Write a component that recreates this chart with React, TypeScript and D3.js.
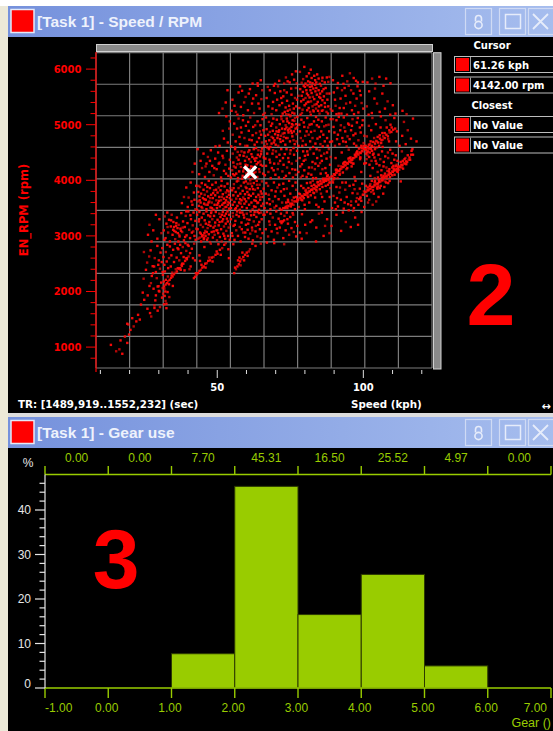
import React from 'react';
import * as d3 from 'd3';

// ---------- Scatter data: [speed (kph), rpm], grouped by rpm band ----------
const band6000: [number, number][] = [
  [71.2,5790],[73.5,5850],[74.8,5760],[75.6,5905],[76.3,5810],[72.9,5740],[76.9,5960],[74.1,5780],[69.8,5735],[77.2,5745],
  [79.8,6040],[81.4,5925],[82.0,5990],[78.3,5950],[80.6,5870],[83.2,5880],[84.7,5830],[85.9,5790],[86.8,5760],[82.6,5745],
  [81.1,5780],[79.4,5820],[83.9,5760],[84.2,5905],[87.5,5850],[88.4,5860],[80.2,5740],[85.1,5735],[86.0,5845],[78.9,5755],
  [83.5,5800],[82.3,5840],[81.8,5760],[88.0,5770],[89.6,5800],[91.3,5750],[92.8,5880],[94.5,5780],[96.7,5840],[98.1,5760],
  [99.8,5770],[95.4,5925],[93.2,5735],[97.5,5790],[101.4,5760],[103.0,5830],[105.5,5860],[107.8,5830],[109.3,5745],[104.2,5740],
  [62.1,5740],[63.8,5745],[64.9,5800]
];

const band5400: [number, number][] = [
  [53.5,5620],[51.8,5290],[52.9,5400],[50.6,5210],
  [55.2,5450],[56.4,5230],[57.3,5580],[58.1,5320],[58.9,5170],[59.7,5500],[60.5,5260],[61.2,5640],[61.9,5380],[62.6,5210],
  [63.3,5530],[63.9,5700],[64.5,5290],[65.1,5460],[65.7,5180],[55.9,5340],[57.8,5690],[59.2,5400],[60.8,5560],[62.3,5470],
  [64.1,5380],[65.4,5620],[56.9,5180],[54.9,5250],[58.5,5610],
  [66.3,5210],[66.9,5480],[67.5,5330],[68.0,5620],[68.6,5190],[69.1,5410],[69.7,5570],[70.2,5260],[70.8,5690],[71.3,5350],
  [71.9,5480],[72.4,5200],[72.9,5620],[73.4,5310],[73.9,5430],[74.4,5180],[74.9,5270],[75.4,5540],[75.9,5380],[76.4,5200],
  [76.9,5660],[77.3,5450],[73.1,5230],[74.1,5250],[75.1,5170],[75.7,5215],[76.2,5290],[74.6,5340],[73.6,5190],[72.2,5390],
  [70.5,5450],[68.9,5290],[67.3,5680],[69.4,5700],[71.6,5600],[75.3,5650],[76.6,5480],[77.0,5330],[73.8,5580],[72.6,5510],
  [77.8,5520],[78.1,5300],[78.4,5640],[78.7,5420],[79.0,5210],[79.3,5590],[79.6,5700],[79.9,5350],[80.2,5480],[80.5,5620],
  [80.8,5260],[81.1,5530],[81.4,5410],[81.7,5680],[82.0,5180],[82.3,5570],[82.6,5330],[82.9,5650],[83.2,5460],[83.5,5720],
  [83.8,5290],[84.1,5540],[84.4,5410],[84.7,5620],[85.0,5200],[85.3,5480],[85.6,5350],[85.9,5600],[86.2,5260],[86.5,5510],
  [86.8,5390],[87.1,5660],[87.4,5230],[87.7,5450],[88.0,5330],[88.4,5560],[88.8,5280],[80.0,5680],[80.9,5710],[81.9,5620],
  [82.7,5500],[83.6,5600],[84.0,5370],[84.9,5500],[85.5,5700],[86.4,5640],[79.5,5450],[81.3,5300],[82.1,5420],[83.0,5240],
  [84.5,5250],[86.0,5440],[87.5,5560],[78.9,5520],[80.4,5380],[81.6,5490],[83.3,5360],[84.8,5330],[82.4,5690],[80.7,5560],
  [81.8,5230],[83.9,5660],[85.2,5560],[86.9,5320],[79.2,5270],[78.5,5180],[87.9,5200],[85.8,5250],[82.8,5260],[81.0,5410],
  [89.4,5250],[89.9,5580],[90.5,5340],[91.1,5660],[91.6,5200],[92.2,5470],[92.7,5620],[93.3,5300],[93.9,5520],[94.4,5180],
  [95.0,5700],[95.5,5400],[96.1,5260],[96.6,5560],[97.2,5340],[97.7,5470],[98.3,5220],[98.8,5610],[99.4,5390],[100.0,5290],
  [90.3,5450],[91.9,5300],[94.1,5380],[96.8,5190],[99.1,5530],[92.5,5200],[95.8,5620],[98.0,5690],[90.8,5190],[93.6,5660],
  [101.2,5330],[102.0,5600],[102.9,5210],[103.8,5470],[104.7,5380],[105.6,5230],[106.5,5560],[107.4,5290],[108.3,5420],[109.2,5180],
  [110.1,5350],[111.0,5200],[104.0,5650],[106.9,5700],[101.8,5180],[113.4,5250],[114.8,5190]
];

const band4900: [number, number][] = [
  [53.1,5150],[54.1,4930],[52.3,4750],[50.8,4620],[53.6,4680],[51.9,4890],[54.3,5060],[49.4,4610],
  [54.8,4610],[55.3,4820],[55.8,5020],[56.3,4700],[56.8,4930],[57.3,5110],[57.8,4650],[58.3,4860],[58.8,5080],[59.3,4760],
  [59.8,4980],[60.3,4620],[60.8,4890],[61.3,5130],[61.8,4720],[62.3,4960],[62.8,4640],[63.3,4850],[63.8,5060],[64.3,4760],
  [64.8,4990],[65.3,4680],[65.8,4900],[56.1,4590],[57.6,4780],[59.6,4620],[60.6,5050],[62.1,4810],[63.6,4690],[64.6,4880],
  [65.5,5100],[58.1,4950],[61.0,4730],[63.0,4990],[65.0,4820],
  [66.2,4610],[66.6,4700],[67.0,4650],[67.4,4820],[67.8,4720],[68.2,4600],[68.6,4780],[69.0,4890],[69.4,4680],[69.8,4830],
  [70.2,4950],[70.6,4760],[71.0,4870],[71.4,5010],[71.8,4800],[72.2,4930],[72.6,5060],[73.0,4850],[73.4,4990],[73.8,5110],
  [74.2,4900],[74.6,5030],[75.0,5150],[75.4,4960],[75.8,5080],[76.2,4880],[76.6,5120],[77.0,5010],[77.4,5140],[66.9,4920],
  [67.7,5050],[68.4,4980],[69.2,5110],[70.0,4640],[70.9,4620],[71.7,4690],[72.5,4710],[73.3,4640],[74.1,4760],[74.9,4700],
  [75.7,4790],[76.5,4650],[77.2,4830],[68.8,5020],[70.4,5090],[71.2,4900],[72.0,5100],[73.6,4760],[74.4,4860],[75.2,4890],
  [76.0,4990],[76.8,4930],[69.6,4720],[70.8,4810],[72.4,4840],[73.2,4920],[74.0,5060],[75.6,5010],[76.4,5070],[77.3,4950],
  [66.4,4800],[67.2,4590],[68.0,4870],[71.5,4740],[73.7,4950],[75.5,4850],[72.8,4780],[70.3,4880],[69.1,4760],[74.7,4930],
  [76.1,4720],[66.7,5130],[68.6,4660],[71.9,5150],[77.1,4700],
  [77.8,4620],[78.3,4880],[78.8,5090],[79.3,4710],[79.8,4960],[80.3,4640],[80.8,5120],[81.3,4820],[81.8,4700],[82.3,5010],
  [82.8,4600],[83.3,4890],[83.8,5140],[84.3,4750],[84.8,4960],[85.3,4650],[85.8,5060],[86.3,4820],[86.8,4700],[87.3,4990],
  [87.8,4620],[88.3,4880],[88.8,5100],[78.6,4760],[79.6,5040],[80.6,4880],[81.6,5000],[82.6,4760],[83.6,4660],[84.6,5090],
  [85.6,4880],[86.6,4970],[87.6,4760],[88.6,4690],[79.1,4620],[81.1,4950],[83.1,5060],[85.1,4780],[87.1,5130],[80.1,4800],
  [82.1,4870],[84.1,4990],[86.1,4610],[88.1,5000],[78.1,5000],
  [89.3,4700],[89.8,4960],[90.3,4620],[90.8,5080],[91.3,4820],[91.8,4650],[92.3,4990],[92.8,4760],[93.3,5130],[93.8,4880],
  [94.3,4610],[94.8,5020],[95.3,4740],[95.8,4900],[96.3,5100],[96.8,4660],[97.3,4840],[97.8,5040],[98.3,4720],[98.8,4950],
  [99.3,4620],[99.8,5080],[100.3,4800],[90.1,4860],[91.6,5140],[93.1,4700],[94.6,4790],[96.1,4980],[97.6,4620],[99.1,4860],
  [100.1,4670],[92.1,4900],[95.1,5000],[98.1,5120],[89.6,5100],[94.0,4690],[96.6,4810],[91.0,4740],[93.5,4950],[99.6,4990],
  [100.8,4620],[101.6,4600],[102.3,4650],[102.9,4610],[103.4,4690],[104.0,4660],[104.6,4700],[105.1,4680],[105.7,4750],[106.2,4720],
  [106.8,4790],[107.3,4760],[107.9,4820],[108.4,4790],[109.0,4860],[109.6,4870],[110.2,4910],[110.9,4930],[103.7,4760],[105.4,4620],
  [106.5,4850],[108.8,4700],[101.2,4790],[102.7,4900],[104.3,5010],[105.9,4950],[107.6,5080],[109.3,5000],[110.6,5120],[111.5,4880],
  [103.1,5120],[106.0,5150],[108.0,4950],[111.2,4700],[101.9,4980],
  [112.4,4620],[113.3,4800],[114.5,4650],[115.2,4900],[116.3,4750],[117.0,5110],[118.2,4700],[113.9,5050]
];

const band4300: [number, number][] = [
  [42.3,4300],[41.5,4150],
  [43.3,4560],[43.8,4110],[44.3,4350],[44.8,4220],[45.3,4480],[45.8,4060],[46.3,4300],[46.8,4420],[47.3,4150],[47.8,4540],
  [48.3,4260],[48.8,4090],[49.3,4390],[49.8,4200],[50.3,4500],[50.8,4320],[51.3,4050],[51.8,4440],[52.3,4170],[52.8,4280],
  [53.3,4530],[53.8,4080],[54.3,4370],[52.0,4400],[50.5,4300],[49.0,4220],[47.5,4350],[46.0,4250],[53.0,4120],[54.1,4210],
  [54.7,4050],[55.1,4180],[55.5,4320],[55.9,4090],[56.3,4230],[56.7,4410],[57.1,4040],[57.5,4160],[57.9,4300],[58.3,4520],
  [58.7,4080],[59.1,4210],[59.5,4350],[59.9,4120],[60.3,4270],[60.7,4060],[61.1,4200],[61.5,4330],[61.9,4100],[62.3,4240],
  [62.7,4390],[63.1,4150],[63.5,4290],[63.9,4460],[64.3,4200],[64.7,4340],[65.1,4520],[65.5,4260],[65.9,4410],[55.3,4480],
  [56.1,4560],[57.7,4450],[59.3,4500],[60.1,4420],[61.7,4470],[62.5,4560],[63.3,4580],[64.1,4540],[65.3,4570],[58.5,4030],
  [60.5,4150],[62.1,4030],[63.7,4060],[65.7,4120],[56.5,4120],[58.1,4240],[59.7,4280],[61.3,4090],[62.9,4210],[64.5,4150],
  [57.3,4370],[60.9,4380],[64.9,4280],[55.7,4250],[63.0,4350],[59.0,4440],[61.0,4540],[57.0,4510],[65.0,4470],[62.0,4420],
  [58.9,4160],[60.0,4230],[61.6,4250],[63.4,4400],[64.6,4430],[56.9,4290],[55.4,4110],[62.6,4130],[64.0,4320],[60.6,4510],
  [66.3,4090],[66.7,4260],[67.1,4480],[67.5,4150],[67.9,4370],[68.3,4040],[68.7,4220],[69.1,4540],[69.5,4300],[69.9,4100],
  [70.3,4420],[70.7,4200],[71.1,4050],[71.5,4350],[71.9,4560],[72.3,4160],[72.7,4280],[73.1,4470],[73.5,4080],[73.9,4230],
  [74.3,4400],[74.7,4130],[75.1,4540],[75.5,4300],[75.9,4050],[76.3,4460],[76.7,4190],[77.1,4350],[66.5,4390],[67.7,4560],
  [68.9,4480],[70.1,4520],[71.3,4460],[72.5,4400],[73.7,4560],[74.9,4480],[76.1,4580],[77.3,4530],[69.3,4180],[70.9,4300],
  [72.9,4040],[74.5,4330],[75.7,4200],[76.9,4100],[68.1,4320],
  [77.8,4150],[78.2,4400],[78.6,4050],[79.0,4290],[79.4,4520],[79.8,4180],[80.2,4370],[80.6,4060],[81.0,4460],[81.4,4230],
  [81.8,4560],[82.2,4100],[82.6,4330],[83.0,4480],[83.4,4200],[83.8,4040],[84.2,4400],[84.6,4260],[85.0,4540],[85.4,4120],
  [85.8,4350],[86.2,4030],[86.6,4480],[87.0,4220],[87.4,4390],[87.8,4090],[88.2,4560],[88.6,4280],[79.2,4080],[80.8,4520],
  [82.4,4230],[84.0,4560],[85.6,4440],[87.2,4130],[88.8,4420],[78.4,4250],[81.2,4120],[83.6,4300],[86.0,4200],[88.4,4050],
  [80.0,4440],[82.8,4040],[85.2,4310],[87.6,4500],[79.6,4350],
  [89.2,4070],[89.6,4070],[89.9,4110],[90.3,4100],[90.7,4140],[91.0,4140],[91.4,4170],[91.8,4170],[92.1,4200],[92.5,4210],
  [92.9,4240],[93.2,4240],[93.6,4270],[94.0,4270],[94.3,4310],[94.7,4300],[95.1,4340],[95.4,4330],[95.8,4370],[96.2,4370],
  [96.5,4400],[96.9,4400],[97.3,4430],[97.6,4430],[98.0,4470],[98.4,4460],[98.7,4500],[99.1,4490],[99.5,4530],[99.8,4520],
  [100.2,4560],[89.8,4020],[90.9,4190],[92.0,4120],[93.4,4320],[94.5,4220],[95.6,4410],[96.7,4300],[97.9,4520],[99.0,4410],
  [100.0,4580],[91.5,4260],[93.0,4140],[94.9,4390],[96.0,4250],[97.5,4480],[98.9,4380],[90.5,4400],[92.6,4500],[95.0,4550],
  [97.0,4060],[99.3,4150],[100.3,4300],[91.2,4040],[98.5,4570],
  [100.7,4560],[101.0,4540],[101.3,4580],[101.6,4520],[101.9,4570],[100.9,4480],[101.4,4450],[102.2,4500],[102.6,4560],[102.0,4420],
  [101.1,4380],[103.0,4530],[103.5,4480],[104.0,4560],[102.8,4350],[103.8,4410],[104.5,4300],[105.2,4460],[105.8,4380],[106.4,4520],
  [106.9,4250],[107.5,4430],[104.9,4150],[106.1,4090],[103.2,4220],[102.4,4080],
  [106.8,4040],[107.2,4040],[107.6,4070],[108.0,4070],[108.3,4100],[108.7,4100],[109.0,4130],[109.4,4120],[109.8,4160],[110.1,4150],
  [110.5,4180],[110.9,4180],[111.2,4210],[111.6,4200],[111.9,4240],[107.4,4120],[108.2,4170],[109.1,4060],[109.9,4230],[110.7,4100],
  [111.4,4280],[108.9,4200],[110.3,4260],[111.8,4150],[107.9,4230],[109.6,4310],[110.6,4370],[111.1,4450],[108.5,4400],[106.2,4180],
  [104.2,4350],[105.5,4270],[103.9,4040],[105.0,4050],[111.7,4350],[107.0,4330],[108.4,4500],[109.2,4550],[110.0,4480],[106.6,4600],
  [104.7,4590],[103.3,4460],[102.1,4280],[100.9,4310],
  [112.2,4250],[112.6,4240],[113.0,4280],[113.4,4270],[113.8,4310],[114.2,4300],[114.6,4340],[115.0,4330],[115.5,4370],[116.0,4370],
  [112.8,4330],[113.6,4210],[114.4,4400],[115.2,4450],[116.5,4530],[117.0,4460],[113.2,4520],[116.8,4560]
];

const band3700: [number, number][] = [
  [39.4,3870],[40.2,3690],[40.9,3960],[41.5,3560],[42.0,3780],[42.5,3480],[42.8,3900],[41.2,3620],[39.9,3520],[38.6,3700],
  [37.9,3590],[42.2,3650],
  [43.1,3470],[43.3,3620],[43.5,3790],[43.7,3540],[43.9,3710],[44.1,3880],[44.3,3600],[44.5,3760],[44.7,3950],[44.9,3500],
  [45.1,3680],[45.3,3830],[45.5,3580],[45.7,3740],[45.9,3920],[46.1,3650],[46.3,3480],[46.5,3800],[46.7,3560],[46.9,3710],
  [47.1,3990],[47.3,3620],[47.5,3860],[47.7,3510],[47.9,3740],[48.1,3600],[48.3,3920],[48.5,3680],[48.7,3470],[48.9,3820],
  [49.1,3560],[49.3,3730],[49.5,3960],[49.7,3640],[49.9,3500],[50.1,3780],[50.3,3590],[50.5,3870],[50.7,3700],[50.9,3530],
  [51.1,3820],[51.3,3640],[51.5,3990],[51.7,3560],[51.9,3750],[52.1,3480],[52.3,3670],[52.5,3890],[52.7,3600],[52.9,3780],
  [53.1,3520],[53.3,3700],[53.5,3940],[53.7,3610],[53.9,3800],[54.1,3490],[54.3,3680],[54.5,3860],[53.6,3560],[54.2,3590],
  [53.0,3640],[52.6,3520],[54.0,3740],[53.4,3820],[52.2,3590],[51.6,3700],[50.6,3630],[49.6,3830],[48.6,3770],[47.6,3680],
  [46.6,3880],[45.6,3660],[44.6,3520],[43.6,3900],[48.2,3500],[50.0,3560],[51.4,3900],[46.0,3560],[44.0,3640],[47.0,3600],
  [54.7,3500],[54.9,3650],[55.1,3820],[55.3,3560],[55.5,3730],[55.7,3930],[55.9,3610],[56.1,3480],[56.3,3790],[56.5,3670],
  [56.7,3980],[56.9,3540],[57.1,3720],[57.3,3860],[57.5,3600],[57.7,3470],[57.9,3760],[58.1,3900],[58.3,3640],[58.5,3520],
  [58.7,3810],[58.9,3690],[59.1,3960],[59.3,3580],[59.5,3750],[59.7,3880],[59.9,3620],[60.1,3500],[60.3,3790],[60.5,3940],
  [60.7,3680],[60.9,3560],[61.1,3840],[61.3,4000],[61.5,3720],[61.7,3600],[61.9,3890],[62.1,3480],[62.3,3760],[62.5,3950],
  [62.7,3640],[62.9,3830],[63.1,3520],[63.3,3700],[63.5,3990],[63.7,3590],[63.9,3860],[64.1,3740],[64.3,3470],[64.5,3920],
  [64.7,3650],[64.9,3800],[65.1,3540],[65.3,3980],[65.5,3700],[65.7,3580],[65.9,3850],[58.0,3580],[59.4,3660],[60.8,3740],
  [62.2,3840],[63.6,3920],[56.4,3500],[57.8,3660],[60.0,3860],[61.4,3940],[64.0,3600],[65.2,3760],[55.6,3860],[57.2,3990],
  [59.8,3980],[62.6,3530],[63.2,3630],[64.6,3700],
  [66.2,3500],[66.6,3760],[67.0,3590],[67.4,3900],[67.8,3660],[68.2,3480],[68.6,3820],[69.0,3620],[69.4,3960],[69.8,3710],
  [70.2,3540],[70.6,3870],[71.0,3660],[71.4,3490],[71.8,3800],[72.2,3600],[72.6,3940],[73.0,3720],[73.4,3520],[73.8,3850],
  [74.2,3650],[74.6,3990],[75.0,3760],[75.4,3560],[75.8,3900],[76.2,3690],[76.6,3480],[77.0,3830],[77.4,3620],[66.8,3950],
  [68.0,3570],[69.6,3510],[71.2,3920],[72.8,3840],[74.0,3500],[75.6,3640],[76.8,3960],[70.0,3800],[73.6,3600],[67.6,3740],
  [72.0,3470],[72.6,3500],[73.2,3500],[73.8,3540],[74.4,3540],[75.0,3580],[75.6,3580],[76.2,3620],[76.8,3620],[77.4,3660],
  [77.7,3650],[78.1,3690],[78.5,3680],[78.9,3720],[79.3,3710],[79.7,3750],[80.1,3740],[80.5,3780],[80.9,3770],[81.3,3800],
  [81.7,3800],[82.1,3830],[82.5,3830],[82.9,3860],[83.3,3850],[83.7,3890],[84.1,3880],[84.5,3920],[84.9,3910],[85.3,3940],
  [85.7,3940],[86.1,3970],[86.5,3970],[86.9,4000],[87.3,3990],[87.7,4020],[88.1,4010],[78.3,3750],[79.1,3640],[80.3,3830],
  [81.1,3700],[82.3,3900],[83.1,3770],[84.3,3960],[85.1,3840],[86.3,4010],[87.1,3900],[88.3,3960],[79.9,3560],[81.5,3600],
  [83.5,3690],[85.5,3760],[87.5,3800],[78.7,3900],[80.7,3950],[82.7,3990],[84.7,3520],[86.7,3620],[88.5,3700],[77.9,3520],
  [80.0,3480],[83.9,3560],[86.0,3480],[88.7,3860],[81.9,3960],[79.5,3860],[85.9,3700],[84.0,3800],[82.0,3730],[87.9,3920],
  [89.3,3500],[89.8,3720],[90.3,3600],[90.8,3880],[91.3,3530],[91.8,3780],[92.3,3650],[92.8,3960],[93.3,3490],[93.8,3830],
  [94.3,3700],[94.8,3570],[95.3,3900],[95.8,3620],[96.3,3770],[96.8,3500],[97.3,3990],[97.8,3680],[98.3,3560],[98.8,3850],
  [99.3,3630],[99.8,3740],[100.3,3520],[89.6,3960],[90.6,3480],[92.0,3870],[93.6,3600],[95.0,3460],[96.6,3920],[98.0,3760],
  [99.6,3940],[91.0,3680],[94.0,3960],[97.0,3840],[99.0,3680],[97.5,3620],[95.8,3550],[99.0,3700],[100.0,3740],[98.6,3660],
  [100.6,3790],[101.0,3790],[101.4,3820],[101.8,3820],[102.2,3850],[102.6,3850],[103.0,3880],[103.4,3880],[103.8,3910],[104.2,3910],
  [104.6,3940],[105.0,3940],[105.4,3970],[105.8,3970],[106.2,4000],[106.6,4000],[101.2,3720],[102.4,3930],[103.6,3760],[104.8,3850],
  [106.0,3900],[102.0,3650],[104.0,3990],[105.6,3860],[100.9,3900],[103.2,3560],[105.2,3700],[107.2,3880],[108.5,3950],[101.6,3600],
  [106.8,3760],[109.0,3990],[107.8,3960],[104.4,3620],[102.9,3990],[112.8,3980]
];

const band3200: [number, number][] = [
  [26.3,3020],[26.8,3200],[28.1,3100],[29.5,2950],[30.2,3300],[30.9,3050],[29.0,3380],[27.5,2900],
  [31.7,3100],[32.0,3350],[32.3,2960],[32.6,3220],[32.9,3420],[33.2,3060],[33.5,3290],[33.8,2900],[34.1,3170],[34.4,3380],
  [34.7,3020],[35.0,3250],[35.3,3090],[35.6,2940],[35.9,3180],[36.2,3330],[36.5,3050],[36.8,3200],[37.1,2990],[37.4,3130],
  [37.7,3410],[38.0,3070],[38.3,3260],[38.6,2920],[38.9,3160],[39.2,3360],[39.5,3010],[39.8,3230],[40.1,3440],[40.4,3110],
  [40.7,2960],[41.0,3300],[41.3,3060],[41.6,3190],[41.9,3420],[42.2,3000],[42.5,3270],[42.8,3130],[35.2,3160],[35.8,3070],
  [36.4,3140],[37.0,3020],[37.6,3090],[36.0,3230],[34.9,3110],[38.2,3150],[39.0,2980],[36.7,2900],[34.2,3280],[33.0,3160],
  [40.8,3370],[39.4,3440],[31.9,2930],[41.8,3080],[42.6,2930],
  [43.1,3380],[43.3,3120],[43.5,2950],[43.7,3260],[43.9,3430],[44.1,3060],[44.3,3200],[44.5,2900],[44.7,3330],[44.9,3010],
  [45.1,3160],[45.3,3400],[45.5,2960],[45.7,3280],[45.9,3090],[46.1,3220],[46.3,3440],[46.5,2930],[46.7,3140],[46.9,3370],
  [47.1,3030],[47.3,3250],[47.5,2890],[47.7,3180],[47.9,3410],[48.1,3070],[48.3,3300],[48.5,2970],[48.7,3150],[48.9,3360],
  [49.1,3020],[49.3,3240],[49.5,3430],[49.7,3100],[49.9,2920],[50.1,3290],[50.3,3050],[50.5,3190],[50.7,3400],[50.9,2980],
  [51.1,3340],[51.3,3120],[51.5,2900],[51.7,3260],[51.9,3430],[52.1,3040],[52.3,3170],[52.5,3360],[52.7,2950],[52.9,3220],
  [53.1,3090],[53.3,3310],[53.5,3440],[53.7,3000],[53.9,3150],[54.1,3380],[54.3,2930],[44.8,2990],[45.2,3010],[45.6,3050],
  [44.4,3040],[46.0,3000],[44.0,2970],[45.4,2940],[46.4,3070],[47.6,3350],[49.2,3180],[50.8,3250],[52.4,3000],[53.6,3260],
  [48.0,3440],[51.6,3380],[47.0,3200],[50.0,3100],[46.8,2960],[48.8,3080],[52.0,3300],[53.0,3400],[54.4,3210],[43.8,3300],
  [54.7,3300],[55.0,3050],[55.3,3410],[55.6,3180],[55.9,2930],[56.2,3270],[56.5,3100],[56.8,3440],[57.1,3000],[57.4,3350],
  [57.7,3160],[58.0,2900],[58.3,3240],[58.6,3420],[58.9,3060],[59.2,3330],[59.5,2980],[59.8,3200],[60.1,3400],[60.4,3110],
  [60.7,2950],[61.0,3290],[61.3,3040],[61.6,3370],[61.9,3150],[62.2,2920],[62.5,3260],[62.8,3430],[63.1,3080],[63.4,3340],
  [63.7,2990],[64.0,3200],[64.3,3410],[64.6,3120],[64.9,2960],[65.2,3300],[65.5,3050],[65.8,3380],[55.4,3350],[56.6,3380],
  [57.8,3420],[59.0,3380],[60.2,3300],[61.4,3440],[62.6,3380],[63.8,3430],[65.0,3420],[56.0,3200],[58.4,3120],[60.6,3220],
  [62.0,3100],[64.4,3250],[55.2,3000],[59.6,3060],[63.2,3180],
  [66.2,3380],[66.6,3120],[67.0,3430],[67.4,2990],[67.8,3260],[68.2,3400],[68.6,3080],[69.0,3330],[69.4,2930],[69.8,3200],
  [70.2,3440],[70.6,3050],[71.0,3310],[71.4,3150],[71.8,3400],[72.2,3260],[72.4,3260],[72.9,3280],[72.6,2960],[73.0,3360],
  [73.4,3100],[73.8,3420],[74.2,3220],[74.6,3020],[75.0,3340],[75.4,3140],[75.8,3410],[76.2,3070],[76.6,3250],[77.0,2990],
  [77.4,3180],[68.0,3200],[70.4,3130],[72.0,3230],[74.0,3300],[76.0,3380],[71.6,3260],
  [78.3,3060],[79.0,3390],[80.6,3050],[81.9,3250],[82.5,3280],[83.9,3150],[84.8,3400],[85.8,3420],[86.4,3000],[87.6,3300],
  [88.4,3050],[83.8,2900],[80.1,3200],[78.9,2950],[86.9,3180],
  [89.1,3180],[90.8,3380],[92.4,3090],[94.0,3250],[95.7,3160],[97.2,3330],[99.4,3430],[96.5,3450],[98.2,3200],[93.0,3420]
];

const band2600: [number, number][] = [
  [25.6,2390],[26.7,2630],[27.9,2455],[28.4,2450],[29.0,2350],[30.4,2410],[31.0,2530],[30.6,2700],[29.5,2820],[28.6,2600],
  [27.2,2740],[30.0,2560],[31.2,2780],[26.0,2520],[29.8,2480],[31.3,2350],[28.0,2330],[24.9,2710],
  [31.6,2620],[31.9,2480],[32.1,2360],[32.4,2710],[32.7,2540],[32.9,2840],[33.2,2420],[33.5,2600],[33.8,2810],[34.1,2450],
  [34.3,2650],[34.6,2340],[34.9,2750],[35.2,2530],[35.5,2860],[35.8,2400],[36.1,2610],[36.4,2780],[36.7,2760],[37.0,2560],
  [37.3,2840],[37.6,2690],[37.9,2460],[38.2,2800],[38.5,2620],[38.8,2380],[39.1,2870],[39.4,2730],[39.6,2580],[39.9,2840],
  [40.2,2820],[40.5,2400],[40.9,2450],[41.3,2770],[41.7,2600],[42.1,2860],[42.4,2560],[42.7,2330],
  [35.2,2310],[35.7,2340],[36.2,2360],[36.8,2410],[37.3,2420],[37.8,2480],[38.4,2500],[39.0,2550],[39.6,2600],[40.2,2630],
  [40.7,2690],[36.5,2420],[38.0,2500],[39.3,2600],[37.5,2390],
  [43.4,2330],[43.9,2370],[44.4,2390],[44.9,2430],[45.4,2450],[45.9,2500],[46.4,2510],[46.9,2550],[47.5,2560],[48.1,2610],
  [48.7,2620],[49.4,2660],[50.1,2680],[50.9,2750],[51.7,2780],[52.4,2840],[44.6,2480],[46.0,2430],[47.2,2610],[48.4,2540],
  [49.8,2720],[51.2,2660],[52.9,2870],[53.8,2760],[43.9,2650],[45.6,2800],[47.8,2860],[50.4,2850],[54.0,2600],[44.1,2550],
  [56.4,2400],[56.9,2450],[57.4,2490],[57.8,2540],[58.3,2580],[58.9,2620],[59.5,2660],[60.1,2700],[60.8,2720],[56.1,2430],
  [57.6,2610],[59.2,2560],[58.0,2470],[57.1,2560],[58.6,2700],[60.4,2640],[61.2,2760],[55.5,2850],[62.0,2860],[63.1,2820],
  [64.9,2860],[55.8,2330],[67.0,2880],[69.5,2870],[72.9,2850]
];

const band2000: [number, number][] = [
  [24.5,1980],[24.8,2230],[26.2,1930],[26.8,2100],[25.0,1850],[28.5,1750],[28.8,1840],[30.0,2010],[31.1,1890],[29.3,2240],
  [29.9,2095],[30.8,2160],[28.2,2050],[27.3,2150],[29.6,2090],[30.2,2000],[31.4,2300],[31.5,1960],[27.6,2280],[29.0,1930],
  [23.9,1765],
  [31.3,2062],[31.8,2090],[32.3,2125],[32.8,2150],[33.2,2185],[33.7,2210],[34.2,2245],[34.7,2270],[31.9,2050],[32.4,2210],
  [33.5,2130],[33.0,1990],[32.3,1830],[31.8,1770],[32.6,1780],[32.0,1920],[33.1,2270],[34.4,2290],[32.2,2000],[31.7,2180],
  [33.6,1900],[34.8,2100],[42.0,2240],[42.4,2265],[42.9,2300]
];

const band1500: [number, number][] = [
  [19.2,1420],[19.6,1405],[19.8,1225],[20.3,1310],[20.9,1520],[21.4,1372],[22.3,1462],[23.5,1495],[27.0,1612],[27.4,1550],
  [26.1,1690],[28.5,1703],[29.6,1655],[30.4,1720],[32.6,1700],[18.4,1190],[22.9,1580]
];

const band900: [number, number][] = [
  [13.6,1040],[15.4,925],[16.9,1120],[17.5,880],[19.2,1075],[16.5,960]
];

// extra spread around the 4th / 5th gear streaks
const gear4Spread: [number, number][] = [
  [74.3,3610],[76.1,3560],[78.0,3760],[79.6,3680],[81.2,3860],[82.8,3780],[84.4,3970],[86.0,3880],[87.6,4070],[89.4,3990],
  [90.6,4190],[91.9,4100],[93.1,4300],[94.2,4200],[95.3,4400],[96.4,4300],[97.7,4500],[98.9,4410],[100.1,4620],[101.3,4500],
  [102.5,4700],[103.7,4600],[104.9,4780],[106.1,4670],[107.3,4850],[108.5,4740],[109.7,4950],[75.2,3530],[77.0,3700],[80.8,3730],
  [83.9,3830],[85.3,3990],[88.6,3960],[92.4,4250],[95.9,4320],[99.4,4580],[102.9,4620],[106.6,4730],[83.2,3920],[97.1,4460],
  [101.9,4640],[104.4,4710],[93.8,4330],[90.1,4040],[87.0,4030],[80.2,3810],[78.8,3650],[105.6,4810],[108.9,4900]
];

const gear5Spread: [number, number][] = [
  [101.5,3870],[102.7,3790],[103.9,3960],[105.1,3890],[106.3,4050],[107.5,3980],[108.7,4160],[109.9,4090],[111.1,4260],[112.3,4190],
  [113.5,4350],[114.7,4290],[115.8,4410],[100.2,3800],[104.7,3870],[106.9,4080],[110.4,4210],[113.1,4230],[116.4,4460],[102.2,3900],
  [105.3,4010],[108.1,4030],[111.6,4160],[114.1,4380],[103.3,3820]
];

const scatterBands = [band6000, band5400, band4900, band4300, band3700, band3200, band2600, band2000, band1500, band900, gear4Spread, gear5Spread];

const cursorSpeed = 61.26;
const cursorRpm = 4142.0;
const rpmMajorTicks = [1000, 2000, 3000, 4000, 5000, 6000];
const rpmMinorTicks = d3.range(800, 6201, 200);
const speedMajorTicks = [50, 100];
const speedMinorTicks = d3.range(10, 121, 10);
const panelRows = [
  { header: 'Cursor', values: ['61.26 kph', '4142.00 rpm'] },
  { header: 'Closest', values: ['No Value', 'No Value'] },
];

// ---------- Gear histogram data ----------
const gearBinStarts = [-1, 0, 1, 2, 3, 4, 5, 6];
const gearPercent = [0, 0, 7.70, 45.31, 16.50, 25.52, 4.97, 0];
const gearTicks = [-1, 0, 1, 2, 3, 4, 5, 6, 7];
const pctMajorTicks = [0, 10, 20, 30, 40];
const pctMinorTicks = d3.range(0, 47, 2);

const BOLD = "'DejaVu Sans', Verdana, sans-serif";
const ARIAL = "'Liberation Sans', Arial, sans-serif";
const GREEN = '#99cc00';

function TitleBar({ y, title }: { y: number; title: string }) {
  return (
    <g>
      <rect x={8} y={y} width={545} height={31} fill="url(#tbGrad)" />
      <rect x={11} y={y + 3.5} width={23} height={23} fill="#ff0000" stroke="#e4eaf8" strokeWidth={1.5} />
      <text x={37} y={y + 21} fontFamily={ARIAL} fontWeight="bold" fontSize={15.5} fill="#eef2fc">{title}</text>
      <rect x={465.5} y={y + 2.5} width={26} height={26} fill="none" stroke="#cfdaf4" strokeWidth={1.2} />
      <circle cx={478.5} cy={y + 19} r={3.6} fill="none" stroke="#e6ecfa" strokeWidth={1.6} />
      <path d={`M475.5,${y + 15.5} v-3 a3,3 0 0 1 6,0 v3`} fill="none" stroke="#e6ecfa" strokeWidth={1.6} />
      <rect x={499.5} y={y + 2.5} width={26} height={26} fill="none" stroke="#cfdaf4" strokeWidth={1.2} />
      <rect x={505.5} y={y + 8.5} width={15} height={14} fill="none" stroke="#e6ecfa" strokeWidth={1.5} />
      <rect x={528.5} y={y + 2.5} width={26} height={26} fill="none" stroke="#cfdaf4" strokeWidth={1.2} />
      <path d={`M533,${y + 8} L548,${y + 23} M548,${y + 8} L533,${y + 23}`} stroke="#e6ecfa" strokeWidth={1.8} />
    </g>
  );
}

export default function App() {
  const W = 553, H = 731;
  const x = d3.scaleLinear().domain([8.5, 123.5]).range([96, 432]);
  const y = d3.scaleLinear().domain([624, 6295]).range([368, 52.7]);
  const [px0, px1] = x.range();
  const [py0, py1] = y.range();
  const gridX = d3.range(11).map(i => px0 + (px1 - px0) * i / 10);
  const gridY = d3.range(11).map(i => py1 + (py0 - py1) * i / 10);

  const gx = d3.scaleLinear().domain([-1, 7]).range([45, 551]);
  const gy = d3.scaleLinear().domain([0, 48]).range([688, 474.4]);

  const cx = x(cursorSpeed), cy = y(cursorRpm);
  const S = 2.4;

  return (
    <svg width={W} height={H} viewBox={`0 0 ${W} ${H}`} style={{ position: 'absolute', left: 0, top: 0, display: 'block' }}>
      <defs>
        <linearGradient id="tbGrad" x1="0" x2="1" y1="0" y2="0">
          <stop offset="0" stopColor="#7591dc" />
          <stop offset="1" stopColor="#a6bdee" />
        </linearGradient>
      </defs>
      <rect x={0} y={0} width={W} height={H} fill="#ece9d8" />
      <rect x={0} y={0} width={W} height={6} fill="#ffffff" />

      {/* ===== Window 1 ===== */}
      <TitleBar y={6} title="[Task 1] - Speed / RPM" />
      <rect x={8} y={37} width={545} height={376} fill="#000" />

      {/* scroll bars */}
      <rect x={px0 + 0.5} y={44.5} width={px1 - px0} height={7} fill="#8a8a8a" stroke="#d0d0d0" strokeWidth={1} />
      <rect x={px1 + 1.5} y={py1} width={7.5} height={py0 - py1 + 1} fill="#8a8a8a" stroke="#d0d0d0" strokeWidth={1} />

      {/* grid */}
      <g stroke="#7c7c7c" strokeWidth={1.2}>
        {gridX.map((gxv, i) => <line key={'gx' + i} x1={gxv} x2={gxv} y1={py1} y2={py0} />)}
        {gridY.map((gyv, i) => <line key={'gy' + i} x1={px0} x2={px1} y1={gyv} y2={gyv} />)}
      </g>

      {/* points */}
      <g fill="#ff0a0a">
        {scatterBands.flatMap((grp, gi) =>
          grp.map((d, i) => (
            <rect key={gi + '-' + i} x={x(d[0]) - S / 2} y={y(d[1]) - S / 2} width={S} height={S}
              opacity={(i % 4 === 1) ? 0.7 : 0.95} />
          ))
        )}
      </g>

      {/* cursor */}
      <path d={`M${cx - 6},${cy - 6} L${cx + 6},${cy + 6} M${cx + 6},${cy - 6} L${cx - 6},${cy + 6}`} stroke="#fff" strokeWidth={3.4} />

      {/* y axis */}
      <line x1={96} x2={96} y1={52} y2={372} stroke="#ff0000" strokeWidth={1.2} />
      {rpmMinorTicks.map(t => (
        <line key={'ym' + t} x1={rpmMajorTicks.includes(t) ? 86 : 90.5} x2={96} y1={y(t)} y2={y(t)} stroke="#ff0000" strokeWidth={1} />
      ))}
      {rpmMajorTicks.map(t => (
        <text key={'yl' + t} x={81.5} y={y(t) + 3.8} textAnchor="end" fontFamily={BOLD} fontWeight="bold" fontSize={10} fill="#ff0000">{t}</text>
      ))}
      <text transform="translate(28,210) rotate(-90)" textAnchor="middle" fontFamily={BOLD} fontWeight="bold" fontSize={11.5} fill="#ff0000">EN_RPM (rpm)</text>

      {/* x axis */}
      {speedMinorTicks.map(t => (
        <line key={'xm' + t} x1={x(t)} x2={x(t)} y1={370} y2={speedMajorTicks.includes(t) ? 378 : 374} stroke="#e0e0e0" strokeWidth={1} />
      ))}
      {speedMajorTicks.map(t => (
        <text key={'xl' + t} x={x(t)} y={390.5} textAnchor="middle" fontFamily={BOLD} fontWeight="bold" fontSize={10} fill="#fff">{t}</text>
      ))}
      <text x={18} y={407.5} fontFamily={BOLD} fontWeight="bold" fontSize={10.3} fill="#fff">TR: [1489,919..1552,232] (sec)</text>
      <text x={351} y={407.5} fontFamily={BOLD} fontWeight="bold" fontSize={10.3} fill="#fff">Speed (kph)</text>
      <text x={546} y={410} textAnchor="middle" fontFamily={BOLD} fontWeight="bold" fontSize={11} fill="#fff">↔</text>

      {/* right panel */}
      {panelRows.map((row, ri) => {
        const top = 37 + ri * 60;
        return (
          <g key={'pr' + ri}>
            <text x={492} y={top + 12} textAnchor="middle" fontFamily={BOLD} fontWeight="bold" fontSize={10} fill="#fff">{row.header}</text>
            {row.values.map((v, vi) => {
              const by = top + 19 + vi * 20.5;
              return (
                <g key={'pv' + vi}>
                  <rect x={454.5} y={by + 0.5} width={100} height={16} fill="#000" stroke="#bdbdbd" strokeWidth={1} />
                  <rect x={456} y={by + 2} width={13} height={13} fill="#ff0000" />
                  <line x1={470.5} x2={470.5} y1={by + 1} y2={by + 16} stroke="#9a9a9a" strokeWidth={1} />
                  <text x={473} y={by + 12.5} fontFamily={BOLD} fontWeight="bold" fontSize={10} fill="#fff">{v}</text>
                </g>
              );
            })}
          </g>
        );
      })}

      <text x={491} y={325} textAnchor="middle" fontFamily={ARIAL} fontWeight="bold" fontSize={88} fill="#ff0000">2</text>

      {/* separator */}
      <rect x={8} y={413} width={545} height={4} fill="#dcdcdc" />

      {/* ===== Window 2 ===== */}
      <TitleBar y={417} title="[Task 1] - Gear use" />
      <rect x={8} y={448} width={545} height={283} fill="#000" />

      {/* bars */}
      {gearBinStarts.map((b, i) => gearPercent[i] > 0 ? (
        <rect key={'bar' + i} x={gx(b)} y={gy(gearPercent[i])} width={gx(b + 1) - gx(b)} height={gy(0) - gy(gearPercent[i])}
          fill={GREEN} stroke="#2c3a00" strokeWidth={1} />
      ) : null)}

      {/* top axis */}
      <line x1={gx(-1)} x2={gx(7)} y1={474.5} y2={474.5} stroke={GREEN} strokeWidth={1.4} />
      {gearTicks.map(t => (
        <line key={'tt' + t} x1={gx(t)} x2={gx(t)} y1={474.5} y2={466} stroke={GREEN} strokeWidth={1.4} />
      ))}
      {gearBinStarts.map((b, i) => (
        <text key={'tl' + i} x={gx(b + 0.5)} y={461.5} textAnchor="middle" fontFamily={ARIAL} fontSize={12} fill={GREEN}>{gearPercent[i].toFixed(2)}</text>
      ))}

      {/* bottom axis */}
      <line x1={gx(-1)} x2={gx(7)} y1={688} y2={688} stroke={GREEN} strokeWidth={1.4} />
      {gearTicks.map(t => (
        <line key={'bt' + t} x1={gx(t)} x2={gx(t)} y1={688} y2={698} stroke={GREEN} strokeWidth={1.4} />
      ))}
      {gearTicks.map((t, i) => (
        <text key={'bl' + t}
          x={i === 0 ? gx(t) : i === gearTicks.length - 1 ? gx(t) - 4 : gx(t) - 1.5}
          y={712} textAnchor={i === 0 ? 'start' : i === gearTicks.length - 1 ? 'end' : 'middle'}
          fontFamily={ARIAL} fontSize={12} fill={GREEN}>{t.toFixed(2)}</text>
      ))}
      <text x={551} y={727} textAnchor="end" fontFamily={ARIAL} fontSize={12.5} fill={GREEN}>Gear ()</text>

      {/* left axis */}
      <line x1={45} x2={45} y1={474.5} y2={688} stroke="#e6e6e6" strokeWidth={1.2} />
      {pctMinorTicks.map(t => (
        <line key={'pm' + t} x1={pctMajorTicks.includes(t) ? 35 : 39.5} x2={45} y1={gy(t)} y2={gy(t)} stroke="#e6e6e6" strokeWidth={1.2} />
      ))}
      {pctMajorTicks.map(t => (
        <text key={'pl' + t} x={31} y={gy(t) + 4 - (t === 0 ? 4 : 0)} textAnchor="end" fontFamily={ARIAL} fontSize={12} fill="#e6e6e6">{t}</text>
      ))}
      <text x={28} y={467} textAnchor="middle" fontFamily={ARIAL} fontSize={12} fill="#e6e6e6">%</text>

      <text x={116} y={588} textAnchor="middle" fontFamily={ARIAL} fontWeight="bold" fontSize={84} fill="#ff0000">3</text>
    </svg>
  );
}
